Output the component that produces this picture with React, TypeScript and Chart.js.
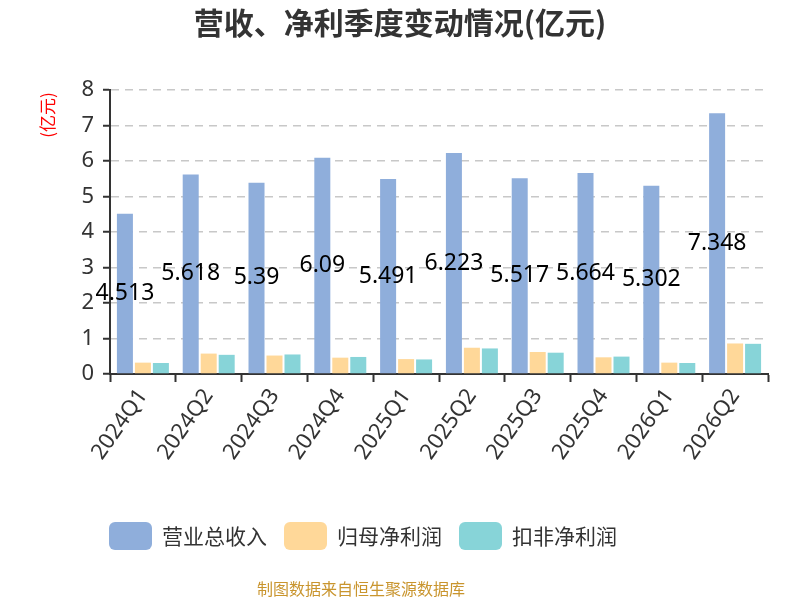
import React, { useEffect, useRef } from 'react';
import { Chart, registerables, Plugin } from 'chart.js';

Chart.register(...registerables);

// 数据（单位：亿元）
const quarters = ['2024Q1', '2024Q2', '2024Q3', '2024Q4', '2025Q1', '2025Q2', '2025Q3', '2025Q4', '2026Q1', '2026Q2'];
const revenue = [4.513, 5.618, 5.39, 6.09, 5.491, 6.223, 5.517, 5.664, 5.302, 7.348];
const netProfit = [0.32, 0.575, 0.52, 0.46, 0.42, 0.74, 0.62, 0.47, 0.32, 0.86];
const deductedProfit = [0.31, 0.54, 0.55, 0.48, 0.41, 0.72, 0.6, 0.49, 0.31, 0.85];
const seriesNames = ['营业总收入', '归母净利润', '扣非净利润'];
const seriesColors = ['#8faedb', '#ffd899', '#87d4d8'];

const FONT = "'Noto Sans', 'Noto Sans CJK SC', sans-serif";
const CJK = "'Noto Sans CJK SC', 'Noto Sans', sans-serif";

// 标题、柱子中间的数值、单位、图例、来源
const extras: Plugin = {
  id: 'extras',
  afterDatasetsDraw(chart) {
    const ctx = chart.ctx;
    ctx.save();
    ctx.font = `23px ${FONT}`;
    ctx.fillStyle = '#000';
    ctx.textAlign = 'center';
    ctx.textBaseline = 'middle';
    chart.getDatasetMeta(0).data.forEach((bar, i) => {
      const p = bar.getProps(['x', 'y', 'base'], true) as any;
      ctx.fillText(String(revenue[i]), p.x, (p.y + p.base) / 2);
    });
    ctx.restore();
  },
  afterDraw(chart) {
    const ctx = chart.ctx;
    ctx.save();

    // 标题
    ctx.font = `bold 30px ${CJK}`;
    ctx.fillStyle = '#333';
    ctx.textAlign = 'center';
    ctx.textBaseline = 'middle';
    ctx.fillText('营收、净利季度变动情况(亿元)', 400, 23);

    // y 轴单位
    ctx.save();
    ctx.translate(48, 115);
    ctx.rotate(-Math.PI / 2);
    ctx.font = `17px ${CJK}`;
    ctx.fillStyle = '#f00';
    ctx.fillText('(亿元)', 0, 0);
    ctx.restore();

    // 图例
    let x = 109;
    const cy = 536;
    ctx.font = `21px ${CJK}`;
    ctx.textAlign = 'left';
    seriesNames.forEach((name, i) => {
      ctx.fillStyle = seriesColors[i];
      ctx.beginPath();
      ctx.roundRect(x, cy - 14, 43, 28, 6);
      ctx.fill();
      ctx.fillStyle = '#333';
      ctx.fillText(name, x + 53, cy);
      x += 53 + ctx.measureText(name).width + 17;
    });

    // 来源
    ctx.font = `16px ${CJK}`;
    ctx.fillStyle = '#c9952e';
    ctx.textAlign = 'center';
    ctx.fillText('制图数据来自恒生聚源数据库', 361, 589);
    ctx.restore();
  },
};

export default function App() {
  const canvasRef = useRef<HTMLCanvasElement>(null);

  useEffect(() => {
    document.body.style.margin = '0';
    if (!canvasRef.current) return;

    const chart = new Chart(canvasRef.current, {
      type: 'bar',
      data: {
        labels: quarters,
        datasets: [revenue, netProfit, deductedProfit].map((d, i) => ({
          label: seriesNames[i],
          data: d,
          backgroundColor: seriesColors[i],
          categoryPercentage: 0.82,
          barPercentage: 0.89,
        })),
      },
      options: {
        responsive: false,
        animation: false,
        layout: { padding: { top: 90, right: 32, bottom: 0, left: 0 } },
        plugins: {
          legend: { display: false },
          tooltip: { enabled: false },
        },
        scales: {
          x: {
            afterFit: (s) => { s.height = 226; },
            grid: { drawOnChartArea: false, drawTicks: true, tickLength: 8, tickColor: '#333', tickWidth: 2 },
            border: { color: '#333', width: 2 },
            ticks: {
              color: '#333',
              font: { family: FONT, size: 22 },
              minRotation: 55,
              maxRotation: 55,
              padding: 2,
            },
          },
          y: {
            min: 0,
            max: 8,
            afterFit: (s) => { s.width = 110; },
            grid: {
              color: (c) => (c.tick && c.tick.value === 0 ? 'rgba(0,0,0,0)' : '#c8c8c8'),
              lineWidth: 1.5,
              tickColor: '#333',
              tickWidth: 2,
              tickLength: 7,
              tickBorderDash: [],
            },
            border: { color: '#333', width: 2, dash: [8, 6] },
            ticks: {
              stepSize: 1,
              color: '#333',
              font: { family: FONT, size: 22 },
              padding: 9,
            },
          },
        },
      },
      plugins: [extras],
    });

    return () => chart.destroy();
  }, []);

  return (
    <div style={{ width: 800, height: 600 }}>
      <canvas ref={canvasRef} width={800} height={600} />
    </div>
  );
}
